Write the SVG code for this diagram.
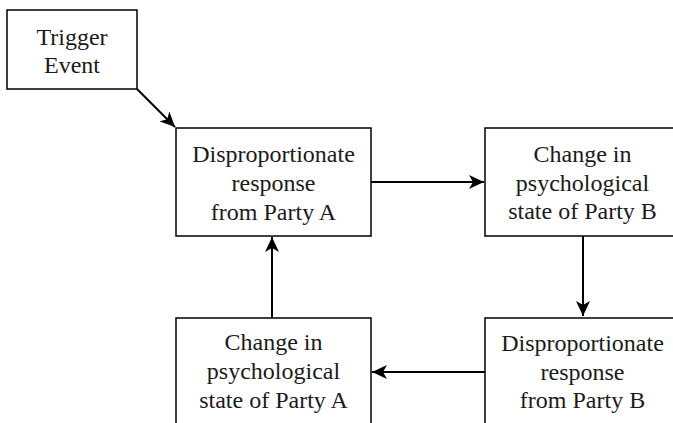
<svg xmlns="http://www.w3.org/2000/svg" width="673" height="423" viewBox="0 0 673 423">
<style>
.box{fill:#fff;stroke:#000;stroke-width:1.5}
.lbl{font-family:"Liberation Serif","DejaVu Serif",serif;font-size:24px;fill:#1a1a1a;text-anchor:middle}
.edge{fill:none;stroke:#000;stroke-width:2}
</style>
<defs>
<marker id="ah" markerWidth="16" markerHeight="14" refX="15" refY="7" orient="auto" markerUnits="userSpaceOnUse">
<path d="M0,0 L15,7 L0,14 L4,7 Z" fill="#000"/>
</marker>
</defs>
<rect width="673" height="423" fill="#fff"/>
<g id="connectors">
<line class="edge" x1="137" y1="89" x2="175" y2="127" marker-end="url(#ah)"/>
<line class="edge" x1="371" y1="182" x2="484" y2="182" marker-end="url(#ah)"/>
<line class="edge" x1="583" y1="236" x2="583" y2="316" marker-end="url(#ah)"/>
<line class="edge" x1="485" y1="372" x2="372" y2="372" marker-end="url(#ah)"/>
<line class="edge" x1="272" y1="318" x2="272" y2="237" marker-end="url(#ah)"/>
</g>
<g id="trigger">
<rect class="box" x="7" y="10" width="130" height="79"/>
<text class="lbl" x="72" y="45">Trigger</text>
<text class="lbl" x="72" y="73">Event</text>
</g>
<g id="respA">
<rect class="box" x="176" y="128" width="195" height="108"/>
<text class="lbl" x="273.5" y="162">Disproportionate</text>
<text class="lbl" x="273.5" y="191">response</text>
<text class="lbl" x="273.5" y="220">from Party A</text>
</g>
<g id="stateB">
<rect class="box" x="485" y="128" width="195" height="108"/>
<text class="lbl" x="582.5" y="162">Change in</text>
<text class="lbl" x="582.5" y="191">psychological</text>
<text class="lbl" x="582.5" y="219">state of Party B</text>
</g>
<g id="respB">
<rect class="box" x="485" y="318" width="195" height="108"/>
<text class="lbl" x="582.5" y="351">Disproportionate</text>
<text class="lbl" x="582.5" y="380">response</text>
<text class="lbl" x="582.5" y="408">from Party B</text>
</g>
<g id="stateA">
<rect class="box" x="176" y="318" width="195" height="108"/>
<text class="lbl" x="273.5" y="350">Change in</text>
<text class="lbl" x="273.5" y="379">psychological</text>
<text class="lbl" x="273.5" y="408">state of Party A</text>
</g>
</svg>
